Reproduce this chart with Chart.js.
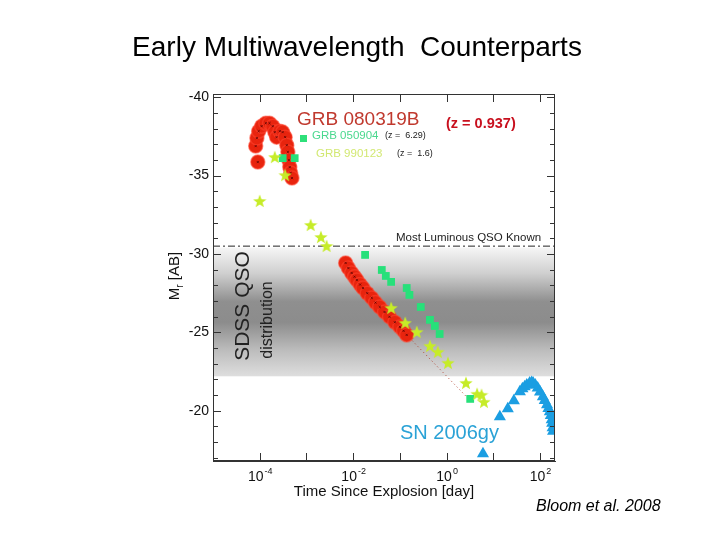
<!DOCTYPE html>
<html>
<head>
<meta charset="utf-8">
<script src="https://cdn.jsdelivr.net/npm/chart.js@4.4.0/dist/chart.umd.min.js"></script>
<style>
  html, body { margin: 0; padding: 0; background: #fff; }
  canvas { display: block; }
</style>
</head>
<body>
<canvas id="chart" width="720" height="540"></canvas>
<script>
// time since explosion [day] and absolute r magnitude
var grb080319bT = [8.2e-5, 8.7e-5, 9.1e-5, 9.5e-5, 1.1e-4, 1.35e-4, 1.62e-4, 1.9e-4, 2.1e-4, 2.3e-4,
                   2.7e-4, 3.1e-4, 3.5e-4, 3.8e-4, 4.0e-4, 4.2e-4, 4.4e-4, 4.6e-4, 4.9e-4,
                   6.9e-3, 7.9e-3, 9.3e-3, 1.07e-2, 1.2e-2, 1.41e-2, 1.62e-2, 2.0e-2, 2.5e-2, 3.0e-2,
                   3.7e-2, 4.7e-2, 6.0e-2, 7.8e-2, 0.10, 0.12, 0.14];
var grb080319bM = [-36.88, -37.39, -35.86, -37.83, -38.15, -38.34, -38.34, -38.15, -37.77, -37.45,
                   -37.83, -37.77, -37.45, -36.94, -36.50, -35.99, -35.54, -35.16, -34.84,
                   -29.43, -29.10, -28.79, -28.55, -28.34, -28.05, -27.83, -27.50, -27.20, -26.90,
                   -26.62, -26.30, -25.99, -25.65, -25.35, -25.10, -24.84];

// extrapolated decay of GRB 080319B (dotted line)
var extrapT = [0.14, 2.8];
var extrapM = [-24.84, -20.83];

var grb050904T = [3.1e-4, 5.6e-4, 0.018, 0.041, 0.05, 0.065, 0.14, 0.16, 0.28, 0.44, 0.56, 0.71, 3.2];
var grb050904M = [-36.11, -36.11, -29.94, -28.98, -28.60, -28.22, -27.83, -27.39, -26.62, -25.80, -25.41, -24.90, -20.76];

var grb990123T = [1.0e-4, 2.1e-4, 3.5e-4, 1.23e-3, 2.04e-3, 2.7e-3, 0.065, 0.13, 0.23, 0.44, 0.65, 1.07, 2.6, 4.5, 5.6, 6.3];
var grb990123M = [-33.38, -36.18, -35.03, -31.85, -31.08, -30.51, -26.56, -25.61, -25.03, -24.14, -23.76, -23.06, -21.78, -21.08, -21.02, -20.57];

var sn2006gyT = [6.0, 13.8, 20.4, 27.5, 37, 42, 47, 52, 60, 66, 71, 79, 89, 100, 115, 126, 141, 151, 162, 170, 178, 182, 186, 190];
var sn2006gyM = [-17.26, -19.62, -20.13, -20.64, -21.21, -21.40, -21.53, -21.65, -21.78, -21.80, -21.78, -21.65, -21.46, -21.20,
                 -20.89, -20.65, -20.38, -20.15, -19.94, -19.70, -19.43, -19.20, -18.92, -18.70];

// SDSS QSO distribution band and the most luminous known QSO
var qsoBand = [-30.4, -22.2];
var qsoMax = -30.5;

// decade ticks on the time axis; only the even decades carry a label
var xTickExp = [-4, -3, -2, -1, 0, 1, 2];
var xLabelExp = [-4, -2, 0, 2];

var FONT = '"Liberation Sans", Arial, sans-serif';

function zip(xs, ys) {
    var pts = [];
    for (var i = 0; i < xs.length; i++) pts.push({x: xs[i], y: ys[i]});
    return pts;
}

function starImage(size, color) {
    var c = document.createElement('canvas');
    c.width = c.height = size;
    var g = c.getContext('2d');
    g.fillStyle = color;
    g.beginPath();
    for (var i = 0; i < 10; i++) {
        var r = i % 2 ? size * 0.21 : size * 0.5;
        var a = -Math.PI / 2 + i * Math.PI / 5;
        g.lineTo(size / 2 + r * Math.cos(a), size / 2 + r * Math.sin(a) + size * 0.04);
    }
    g.closePath();
    g.fill();
    return c;
}

var slideDecor = {
    id: 'slideDecor',
    beforeDatasetsDraw: function(chart) {
        var ctx = chart.ctx, a = chart.chartArea, y = chart.scales.y;
        var top = y.getPixelForValue(qsoBand[0]), bot = y.getPixelForValue(qsoBand[1]);
        var grad = ctx.createLinearGradient(0, top, 0, bot);
        grad.addColorStop(0, '#f6f6f6');
        grad.addColorStop(0.2, '#cfcfcf');
        grad.addColorStop(0.42, '#8f8f8f');
        grad.addColorStop(0.58, '#8c8c8c');
        grad.addColorStop(0.8, '#bdbdbd');
        grad.addColorStop(1, '#dedede');
        ctx.save();
        ctx.fillStyle = grad;
        ctx.fillRect(a.left, top, a.right - a.left, bot - top);

        // SDSS QSO labels
        ctx.fillStyle = '#222';
        ctx.textAlign = 'center';
        ctx.textBaseline = 'middle';
        ctx.translate(243, 306);
        ctx.rotate(-Math.PI / 2);
        ctx.font = '21px ' + FONT;
        ctx.fillText('SDSS QSO', 0, 0);
        ctx.restore();
        ctx.save();
        ctx.fillStyle = '#222';
        ctx.textAlign = 'center';
        ctx.textBaseline = 'middle';
        ctx.translate(268, 320);
        ctx.rotate(-Math.PI / 2);
        ctx.font = '16px ' + FONT;
        ctx.fillText('distribution', 0, 0);
        ctx.restore();
    },
    afterDraw: function(chart) {
        var ctx = chart.ctx, a = chart.chartArea, x = chart.scales.x, y = chart.scales.y;
        ctx.save();
        // frame
        ctx.strokeStyle = '#333';
        ctx.lineWidth = 1;
        ctx.strokeRect(a.left + 0.5, a.top + 0.5, a.right - a.left - 1, a.bottom - a.top - 1);

        // inward ticks
        ctx.beginPath();
        xTickExp.forEach(function(e) {
            var px = Math.round(x.getPixelForValue(Math.pow(10, e))) + 0.5;
            ctx.moveTo(px, a.bottom); ctx.lineTo(px, a.bottom - 8);
            ctx.moveTo(px, a.top); ctx.lineTo(px, a.top + 8);
        });
        for (var m = -40; m <= -17; m++) {
            var len = m % 5 === 0 ? 8 : 5;
            var py = Math.round(y.getPixelForValue(m)) + 0.5;
            ctx.moveTo(a.left, py); ctx.lineTo(a.left + len, py);
            ctx.moveTo(a.right, py); ctx.lineTo(a.right - len, py);
        }
        ctx.stroke();

        // x tick labels with exponents
        ctx.fillStyle = '#111';
        ctx.textBaseline = 'alphabetic';
        xLabelExp.forEach(function(e) {
            var exp = String(e);
            var px = x.getPixelForValue(Math.pow(10, e));
            ctx.font = '14px ' + FONT;
            var w1 = ctx.measureText('10').width;
            ctx.font = '9px ' + FONT;
            var w2 = ctx.measureText(exp).width;
            var left = px - (w1 + w2) / 2;
            ctx.font = '14px ' + FONT;
            ctx.textAlign = 'left';
            ctx.fillText('10', left, a.bottom + 20);
            ctx.font = '9px ' + FONT;
            ctx.fillText(exp, left + w1 + 1, a.bottom + 13);
        });

        // axis titles
        ctx.textAlign = 'center';
        ctx.font = '15px ' + FONT;
        ctx.fillText('Time Since Explosion [day]', 384, 496);
        ctx.save();
        ctx.translate(179, 276);
        ctx.rotate(-Math.PI / 2);
        ctx.textAlign = 'left';
        var wM = ctx.measureText('M').width;
        ctx.font = '10px ' + FONT;
        var wr = ctx.measureText('r').width;
        ctx.font = '15px ' + FONT;
        var wAB = ctx.measureText(' [AB]').width;
        var s = -(wM + wr + wAB) / 2;
        ctx.fillText('M', s, 0);
        ctx.font = '10px ' + FONT;
        ctx.fillText('r', s + wM, 4);
        ctx.font = '15px ' + FONT;
        ctx.fillText(' [AB]', s + wM + wr, 0);
        ctx.restore();

        // most luminous QSO label
        ctx.textAlign = 'left';
        ctx.fillStyle = '#222';
        ctx.font = '11.5px ' + FONT;
        ctx.fillText('Most Luminous QSO Known', 396, 241);

        // legend texts
        ctx.font = '19px ' + FONT;
        ctx.fillStyle = '#c0392e';
        ctx.fillText('GRB 080319B', 297, 125);
        ctx.font = 'bold 14.5px ' + FONT;
        ctx.fillStyle = '#c8101e';
        ctx.fillText('(z = 0.937)', 446, 128);
        ctx.fillStyle = '#2ee07a';
        ctx.fillRect(300, 135, 7, 7);
        ctx.font = '11.5px ' + FONT;
        ctx.fillStyle = '#4ad88e';
        ctx.fillText('GRB 050904', 312, 139);
        ctx.fillStyle = '#d2e872';
        ctx.fillText('GRB 990123', 316, 157);
        ctx.font = '9px ' + FONT;
        ctx.fillStyle = '#222';
        ctx.fillText('(z =  6.29)', 385, 138);
        ctx.fillText('(z =  1.6)', 397, 156);

        ctx.font = '20px ' + FONT;
        ctx.fillStyle = '#2aa2d6';
        ctx.fillText('SN 2006gy', 400, 439);

        // slide title and credit
        ctx.fillStyle = '#000';
        ctx.textAlign = 'center';
        ctx.font = '28px ' + FONT;
        ctx.fillText('Early Multiwavelength  Counterparts', 357, 56);
        ctx.textAlign = 'left';
        ctx.font = 'italic 16px ' + FONT;
        ctx.fillText('Bloom et al. 2008', 536, 511);
        ctx.restore();
    }
};

var ctx = document.getElementById('chart');

var myChart = new Chart(ctx, {
    type: 'scatter',
    data: {
        datasets: [{
            label: 'SN 2006gy',
            data: zip(sn2006gyT, sn2006gyM),
            pointStyle: 'triangle',
            pointRadius: 7,
            backgroundColor: '#1b9ee2',
            borderColor: '#1b9ee2',
            borderWidth: 0,
            order: 0
        }, {
            label: 'GRB 990123',
            data: zip(grb990123T, grb990123M),
            pointStyle: starImage(14, '#c6ec28'),
            order: 1
        }, {
            label: 'GRB 050904',
            data: zip(grb050904T, grb050904M),
            pointStyle: 'rect',
            pointRadius: 5.5,
            backgroundColor: '#27e07a',
            borderWidth: 0,
            order: 2
        }, {
            label: 'GRB 080319B marks',
            data: zip(grb080319bT, grb080319bM),
            pointStyle: 'crossRot',
            pointRadius: 1.5,
            borderColor: 'rgba(80,0,0,0.7)',
            borderWidth: 1,
            order: 3
        }, {
            label: 'GRB 080319B',
            data: zip(grb080319bT, grb080319bM),
            pointStyle: 'circle',
            pointRadius: 7,
            backgroundColor: '#e8240e',
            borderColor: 'rgba(255,70,50,0.55)',
            borderWidth: 1.5,
            order: 4
        }, {
            label: 'extrapolation',
            data: zip(extrapT, extrapM),
            showLine: true,
            pointRadius: 0,
            borderColor: '#b0402e',
            borderWidth: 1,
            borderDash: [1, 3],
            order: 5
        }, {
            label: 'Most Luminous QSO',
            data: [{x: 1e-5, y: qsoMax}, {x: 209, y: qsoMax}],
            showLine: true,
            pointRadius: 0,
            borderColor: '#222',
            borderWidth: 1,
            borderDash: [7, 3, 2, 3],
            order: 6
        }]
    },
    options: {
        responsive: false,
        animation: false,
        layout: { padding: { left: 0, top: 94, right: 165, bottom: 0 } },
        plugins: {
            legend: { display: false },
            tooltip: { enabled: false }
        },
        scales: {
            x: {
                type: 'logarithmic',
                min: 1e-5,
                max: 209,
                grid: { display: false },
                border: { display: true, color: '#333' },
                ticks: { display: false },
                afterFit: function(scale) { scale.height = 79; }
            },
            y: {
                type: 'linear',
                reverse: true,
                min: -40.2,
                max: -16.8,
                grid: { display: false, drawTicks: false },
                border: { display: true, color: '#333' },
                ticks: {
                    stepSize: 1,
                    autoSkip: false,
                    includeBounds: false,
                    padding: 4,
                    color: '#111',
                    font: { family: FONT, size: 14 },
                    callback: function(v) { return Math.abs(v % 5) < 1e-9 ? String(v) : ''; }
                },
                afterFit: function(scale) { scale.width = 213; }
            }
        }
    },
    plugins: [slideDecor]
});
</script>
</body>
</html>
